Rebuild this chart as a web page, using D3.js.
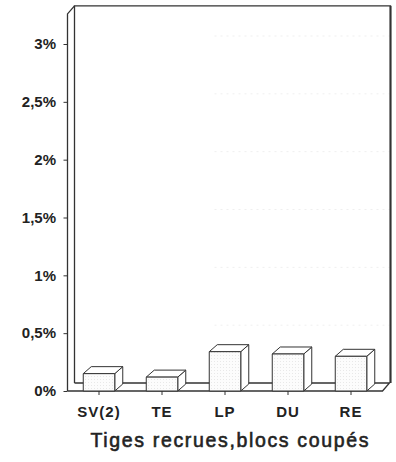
<!DOCTYPE html>
<html>
<head>
<meta charset="utf-8">
<script src="https://cdn.jsdelivr.net/npm/d3@7"></script>
<style>
  html, body { margin: 0; padding: 0; background: #fff; }
  svg { display: block; }
  text { font-family: "Liberation Sans", Arial, Helvetica, sans-serif; fill: #222; }
</style>
</head>
<body>
<div id="chart"></div>
<script>
// Share of recruited stems per block (percent)
const categories = ["SV(2)", "TE", "LP", "DU", "RE"];
const values = [0.15, 0.12, 0.34, 0.32, 0.30];
const yTicks = [0, 0.5, 1, 1.5, 2, 2.5, 3];
const yTickLabels = ["0%", "0,5%", "1%", "1,5%", "2%", "2,5%", "3%"];
const xTitle = "Tiges recrues,blocs coupés";

const W = 396, H = 462;
const svg = d3.select("#chart").append("svg")
  .attr("width", W).attr("height", H);

// plot frame (front plane)
const left = 67.5, right = 382.5, floorY = 391;
const depth = { dx: 7, dy: -8 };        // wall / floor depth
const barDepth = { dx: 8, dy: -7 };     // bar depth

const x = d3.scaleBand().domain(categories)
  .range([left, right]).paddingInner(0.5).paddingOuter(0.25);
const y = d3.scaleLinear().domain([0, 3]).range([floorY, 44]);
const yTop = y(3.26);

const ink = "#333";

// faint dotted grid on the back wall
svg.append("g").selectAll("line")
  .data(yTicks.filter(d => d > 0))
  .join("line")
  .attr("x1", left + depth.dx + 140).attr("x2", right + depth.dx)
  .attr("y1", d => y(d) + depth.dy).attr("y2", d => y(d) + depth.dy)
  .attr("stroke", "#efefef").attr("stroke-width", 1)
  .attr("stroke-dasharray", "2,4");

// back wall, left wall and floor outline
const frame = svg.append("g").attr("fill", "none").attr("stroke", ink);
// back wall left edge + top + right edge
frame.append("path")
  .attr("d", `M${left + depth.dx},${floorY + depth.dy} V${yTop + depth.dy} H${right + depth.dx + 1} V${floorY + depth.dy}`)
  .attr("stroke-width", 1.3);
frame.append("line")
  .attr("x1", right + depth.dx + 1).attr("x2", right + depth.dx + 1)
  .attr("y1", yTop + depth.dy).attr("y2", floorY + depth.dy)
  .attr("stroke-width", 2);
// left wall front edge (value axis) and its top
frame.append("path")
  .attr("d", `M${left},${floorY} V${yTop} L${left + depth.dx},${yTop + depth.dy}`)
  .attr("stroke-width", 1.3);
// floor
frame.append("path")
  .attr("d", `M${left},${floorY} H${right} L${right + depth.dx},${floorY + depth.dy} H${left + depth.dx}`)
  .attr("stroke-width", 1.3);

// stipple used for the bar faces
const defs = svg.append("defs");
const pat = defs.append("pattern").attr("id", "stipple")
  .attr("width", 3).attr("height", 3).attr("patternUnits", "userSpaceOnUse");
pat.append("rect").attr("width", 3).attr("height", 3).attr("fill", "#fcfcfc");
pat.append("rect").attr("x", 1).attr("y", 1).attr("width", 1).attr("height", 1).attr("fill", "#e8e8e8");

// 3D bars
const bars = svg.append("g").selectAll("g").data(categories.map((c, i) => ({ c, v: values[i] })))
  .join("g")
  .attr("stroke", ink).attr("stroke-width", 1).attr("stroke-linejoin", "round");

bars.append("path") // side face
  .attr("fill", "#fff")
  .attr("d", d => {
    const x1 = x(d.c) + x.bandwidth(), t = y(d.v);
    return `M${x1},${floorY} V${t} l${barDepth.dx},${barDepth.dy} V${floorY + barDepth.dy} Z`;
  });
bars.append("path") // top face
  .attr("fill", "#fff")
  .attr("d", d => {
    const x0 = x(d.c), x1 = x0 + x.bandwidth(), t = y(d.v);
    return `M${x0},${t} H${x1} l${barDepth.dx},${barDepth.dy} H${x0 + barDepth.dx} Z`;
  });
bars.append("rect") // front face
  .attr("fill", "url(#stipple)")
  .attr("x", d => x(d.c)).attr("width", x.bandwidth())
  .attr("y", d => y(d.v)).attr("height", d => floorY - y(d.v));

// value axis ticks and labels
const yAxis = svg.append("g").attr("transform", `translate(${left},0)`)
  .call(d3.axisLeft(y).tickValues(yTicks)
    .tickFormat((d, i) => yTickLabels[i]).tickSize(4).tickPadding(7.5));
yAxis.select(".domain").remove();
yAxis.selectAll("line").attr("stroke", ink);
yAxis.selectAll("text")
  .style("font-family", '"Liberation Sans", Arial, sans-serif')
  .style("font-size", "15px").style("font-weight", "bold").attr("fill", "#262626");

// category axis ticks and labels
const xAxis = svg.append("g").attr("transform", `translate(0,${floorY})`)
  .call(d3.axisBottom(x).tickSize(4).tickPadding(11));
xAxis.select(".domain").remove();
xAxis.selectAll("line").attr("stroke", ink);
xAxis.selectAll("text")
  .style("font-family", '"Liberation Sans", Arial, sans-serif')
  .style("font-size", "15px").style("font-weight", "bold")
  .style("letter-spacing", "1px").attr("fill", "#262626");

// axis title (medium weight: regular face with a thin outline)
svg.append("text")
  .attr("x", (left + right + depth.dx) / 2 + 1).attr("y", 447)
  .attr("text-anchor", "middle")
  .attr("textLength", 278).attr("lengthAdjust", "spacing")
  .style("font-size", "19.5px")
  .attr("fill", "#262626").attr("stroke", "#262626").attr("stroke-width", 0.6)
  .text(xTitle);
</script>
</body>
</html>
